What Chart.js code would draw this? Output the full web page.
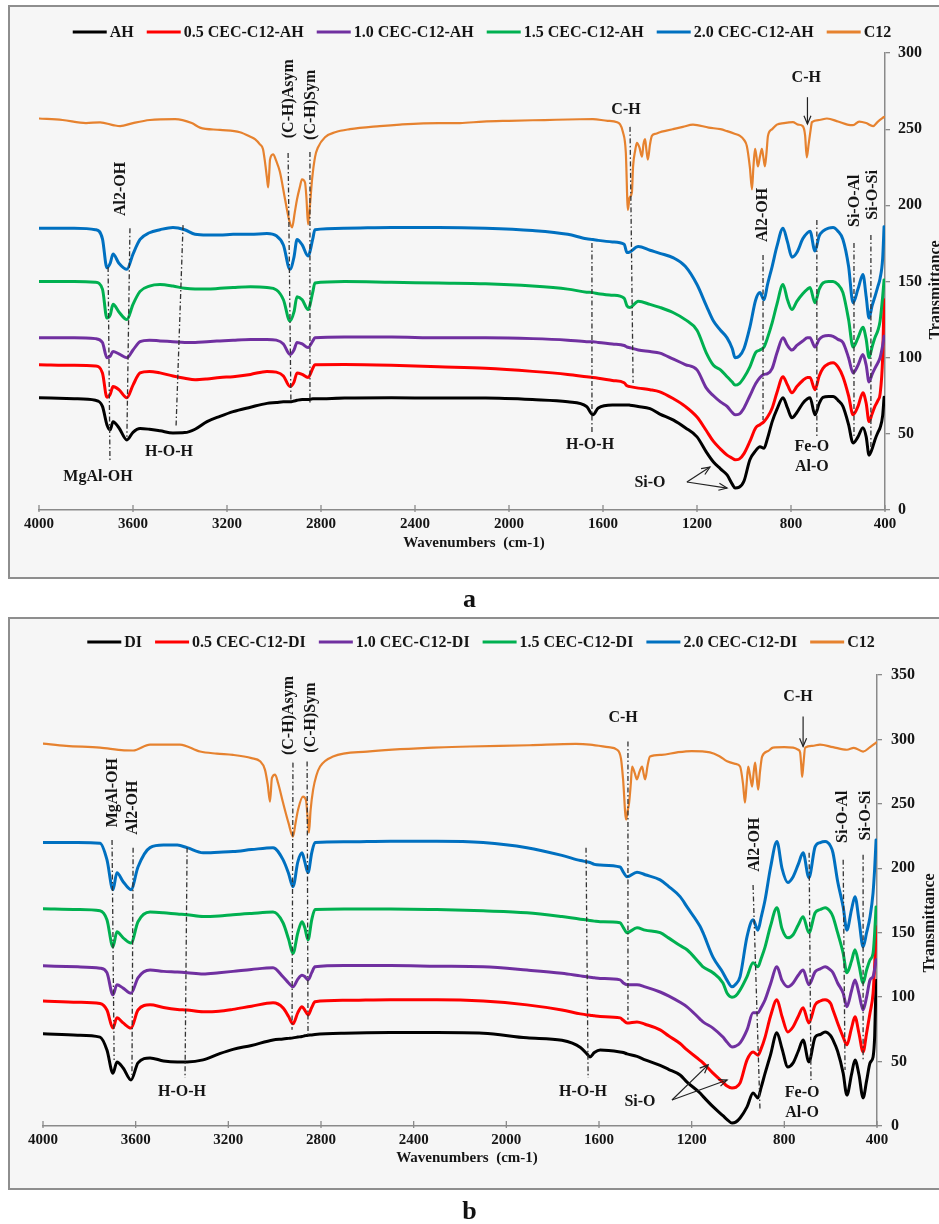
<!DOCTYPE html>
<html><head><meta charset="utf-8">
<script src="https://cdn.jsdelivr.net/npm/chart.js@4.4.0/dist/chart.umd.min.js"></script>
<style>
html,body{margin:0;padding:0;background:#fff;}
body{width:939px;height:1224px;overflow:hidden;position:relative;font-family:"Liberation Serif",serif;}
.box{position:absolute;left:8px;width:940px;border:2px solid #8e8e8e;background:#f6f6f6;box-sizing:border-box;}
canvas{position:absolute;left:0;}
.cap{position:absolute;width:939px;text-align:center;font:bold 26px "Liberation Serif";color:#111;}
</style></head><body>
<div class="box" style="top:5px;height:574px;"></div>
<div class="box" style="top:617px;height:573px;"></div>
<canvas id="ca" width="939" height="600" style="top:0"></canvas>
<canvas id="cb" width="939" height="624" style="top:600px"></canvas>
<div class="cap" style="top:584px;left:0;">a</div>
<div class="cap" style="top:1196px;left:0;">b</div>
<script>
// ---------------- Panel a data ----------------
const gridA = [4000,3850,3760,3730,3711,3697,3685,3660,3626,3600,3570,3530,3485,3430,3380,3336,3285,3230,3174,3100,3030,2990,2960,2932,2915,2902,2880,2855,2835,2826,2700,2500,2300,2100,1900,1750,1670,1643,1620,1560,1510,1498,1485,1450,1400,1358,1300,1250,1200,1160,1130,1100,1072,1050,1038,1020,1000,975,950,932,915,900,880,860,834,815,796,775,750,730,719,698,680,664,640,621,600,579,555,536,515,494,480,468,455,443,430,421,410,404];
const ahA = [73.7,73,72,68,56,52.6,58,54,46,51, 53.5,53,52,50.6,50.8,53,58,61.5,64.6,67.5, 70,70.5,71,71,71.5,72,72.5,72.5,73,73, 73.5,73.7,73.5,73.5,72.5,71,68,62.5,67,69, 69,69,68.8,68,66.5,63,59,54,48,38, 31.5,27,23,17,14.5,15,19,33,39,41.6, 40.5,47,58,66,73.7,67,60.5,64,70,73, 73.7,62.5,70,74,74.5,74.5,72,68,56,44, 48,54,48,36,40,46,51,54,62,74];
const ah05 = [95.4,95,94.5,90,74,76,81,79,73.7,82, 90,91,90,88,86.5,85.5,86,87,87.5,89, 91,90.5,88,81,84,90,89,87,93,95.4, 95.5,95,94,93,91,89,87.5,87,86.5,85, 83.5,81.5,81,80,79,77.6,73,68,61,52, 45,40,36,34,33,33.5,37,45,54,56, 58,61,67,77,87.5,82,77,81,85,87, 87,79,88,93,96,96.7,94,87.5,75,62.5, 68,77,70,58,63,68,72,76,100,138];
const ah10 = [113,113,112.5,110,100,101,104,102.5,100,105, 110.5,111.5,111,110.5,110,110,110.5,111,111.5,112, 112,111.5,109,102,105,110,109,106.6,111,113, 113.5,113.5,113,113,112.5,111.5,110.5,110.5,110,109, 108,107,106.5,105,104,103,99,95.5,92,80, 75,71,68,64,62.5,63,67,75,83,87, 89,89.5,93,103,113,108,105,108,111,113, 113,107,112,114,114.5,114,112,110,100,90, 95,102,95,84,89,93,96.7,100,108,114];
const ah15 = [150,150,149.5,145,126,128,135,130,125,135, 143.5,147,148,147,145.5,145,145,145.5,146,146.5, 146,144.5,138,124,130,140,138,131.6,143,149, 150,149.5,149,148.5,147,145,143,142.7,142,141, 139,134,133,137,135,133,129.5,125,118,103, 95,92,87.5,84,82,83,87,94,103.5,105, 107,113,123,135,148,138,131.6,137,142,145, 146,136,145,149,150,150,148,142.7,125,107, 113,120,112,100,107,113,118,124,140,151];
const ah20 = [185,185,184,178,159,162,168,162,158,168, 177.6,182,184,185.5,184,181,180.5,180.5,181,181, 181.5,180,174,158,166,177.6,174,166.7,178,184, 185,185.5,185.5,185,183.5,181,178,177.6,177,176, 174.5,169,169.5,173,170.5,168.5,165.5,160,148,134, 124,118,113,106,100,101,106,120,138,142.7, 138,148,160,173,185,176,166,169,178,182, 183,170,180,183,185,185.5,183,177.6,160,136, 145,154.6,140,126,134,140,147,152,165,186];
const c12AWave = [4000,3900,3800,3740,3680,3655,3600,3528,3421,3350,3315,3230,3145,3100,3081,3060,3047,3038,3030,3025,3020,3017,3004,2990,2975,2953,2935,2923,2912,2902,2890,2881,2868,2862,2855,2847,2838,2825,2813,2783,2740,2677,2550,2464,2300,2209,2111,2000,1850,1700,1643,1580,1540,1515,1503,1494,1487,1477,1472,1463,1456,1445,1434,1428,1421,1415,1409,1400,1392,1375,1358,1330,1302,1260,1217,1150,1100,1072,1040,1017,1000,988,975,966,960,953,947,941,932,924,918,911,904,898,880,860,830,792,770,750,740,733,725,716,711,680,647,600,560,536,510,480,451,430,404];
const c12AVal = [257,256,254,254.5,252.5,252,254,256,256.6,254,251,249.5,248,245,243.4,240,237,228,218,211.8,222,230,233.5,229,222,204,190,185.5,195,204,212,217,215,205,187.5,200,217,232,238,244.7,248,250,252,253,254,254,255,255.5,256,256.5,256.6,255.5,254.6,248,235,197,205,208.6,225.6,236,241,238,232,240,243.4,236,230,240,245.6,247,248,249,250,251.5,253,251,250,248.7,247,245.6,243,239,225,210.5,225,237,232,225.6,232,237,232,225.6,235,245.6,250,253,254,254.6,253,252,246,231.5,240,250,254.6,256,257,255,253,252.6,255,254,252,255,258];
const labelsNamesA = ['AH','0.5 CEC-C12-AH','1.0 CEC-C12-AH','1.5 CEC-C12-AH','2.0 CEC-C12-AH','C12'];
const yTicksA = {min:0,max:300,step:50};

// ---------------- Panel b data ----------------
const gridB = [4000,3850,3754,3724,3698,3681,3654,3620,3590,3538,3480,3420,3378,3309,3240,3180,3100,3007,2964,2940,2921,2900,2882,2870,2856,2840,2826,2700,2500,2300,2100,1911,1760,1680,1652,1639,1620,1595,1509,1495,1479,1436,1401,1336,1300,1250,1220,1164,1151,1108,1065,1047,1026,1010,991,961,935,914,900,883,860,832,810,785,762,740,719,694,667,645,624,600,590,570,546,530,510,495,478,460,445,430,417,410,404];
const diB = [71.5,70.5,69,59,41,49.7,45,35.7,49,52.8, 50.5,49.7,49.7,51.3,56,59.5,62.5,66.8,67.5,68, 68.4,69,69.5,70,70.5,70.7,71,72,72.5,72.5, 72,68.4,66.5,61,56,53.6,57,59,57.5,57, 56,54,51.3,47,44,39.6,34,25.6,23,15, 8,5,2.3,3,6.2,14.8,25.6,21.8,30,41, 55,72.3,60,45.8,49,58,66.8,49.7,69,71, 73,70,66.8,58,41,24,40,51.3,40,21.8, 35,49,53.6,70,113];
const di05 = [97,96,95,90,76,84,80,76,90,94, 92,90.5,90,88.6,89,90.5,93,95.6,91.7,85, 79.3,88,92.5,90,86.2,92,96.4,97.5,98,98, 97,94,90,87,86.2,86,85.5,85,83.9,82, 80,80.8,79,74.6,70,64,59,51,49,41, 34,31,29.5,30,33.4,51.3,57.5,55,60,69, 85,98,85,73,77,85,91.7,80,94,97, 98,95,90,80,69,63,76,84.7,72,57.5, 72,87.8,103,125,154.6];
const di10 = [124.3,123.5,122.5,119,101.8,109.6,107,103,115,121, 120,119.5,119,118,119,120,121.5,122.8,115.8,111, 108,114,117,116,113.4,119,123.5,124.5,124.5,124, 123.5,121,118.5,116.5,115.8,115.5,115,114.5,113.4,111, 109.6,109.6,108,104,101,96,92.5,83,80.8,76, 69,65,61.4,62,64.5,74.6,87.8,87.8,92,98, 110,123.5,113,108,111,117,121,109.6,119.7,122, 123.5,121,119,111,103,92.5,105,113.4,103,90, 100,113.4,116,122,129];
const di15 = [168.6,168,167,160,139,150.7,146,142,158.5,166, 165.5,164.5,164,162.5,163,164,165,166,157.7,145, 134,150,158.5,154,144.5,160,168,168.5,168.5,168, 167,165.5,162.5,160.5,160,159.5,159,158.5,157.7,154, 150,153.8,152,150,146,140,136.8,126,123.5,118.9, 111,103,100,101,105.6,116,126.6,123.5,130,139, 155,169.4,153,146,148.4,156,162.4,150,165.5,168, 169.4,166,162.4,150,134,118.9,128,136.8,125,111, 121,129,134,150,170];
const di20 = [220,220,219.5,206.7,183.4,196.6,189.6,183.4,201,216, 218,218,216,212,212.5,213,214.5,216,206.7,196, 185.7,205,212,205,196.6,212,220,220.5,221,221, 220,216,210,206,205,204.5,203,202.5,201,197, 193.5,197,195,191,186,178,170,155,150,131, 119,113,108,110,116,147,160,152,162,175.6, 200,220.7,200,189,193.5,203,212,192.7,216.8,220, 220.7,217,212,190,170,152,168,178,160,139, 150,162.4,181,200,222];
const c12BWave = [4000,3900,3754,3650,3611,3538,3409,3322,3250,3180,3100,3063,3042,3030,3020,3012,2998,2985,2964,2940,2921,2910,2899,2878,2865,2858,2852,2845,2834,2820,2804,2748,2601,2316,2157,1900,1700,1639,1560,1522,1505,1496,1483,1476,1470,1463,1457,1446,1436,1425,1414,1408,1401,1390,1380,1330,1263,1200,1121,1080,1047,1010,991,978,970,963,956,948,939,932,926,920,913,905,896,870,849,800,762,740,732,727,723,718,710,680,646,590,530,500,460,430,404];
const c12BVal = [296.8,295,293.7,291.5,291.4,296,296,290.6,289,288,285.5,283,276.6,265,251.7,270,272.7,266,251,235,224.6,235,245.5,255.6,253,240,227.7,245,261,272,279,286.7,290.6,293.7,294.5,295.5,296.5,296,294,292,285,269,237.8,245,251,265,279,274,269,275,279,274,269,280,286.7,288,290,291,290,287,283,281,279,265,251,265,279,272,263.4,275,282,272,261,275,286.7,291,293.7,294,293.7,292,290,280,271,280,293.7,295,296,294,292,293.5,290.6,294,297.6];
const labelsNamesB = ['DI','0.5 CEC-C12-DI','1.0 CEC-C12-DI','1.5 CEC-C12-DI','2.0 CEC-C12-DI','C12'];
const yTicksB = {min:0,max:350,step:50};

// x-axis ticks (wavenumber)
const xTicks = {min:400,max:4000,step:400};

// ---------------- annotations (data units: wavenumber, transmittance) ----------------
const guidesA = [[3706,159.5,3698,31.5],[3613,185,3626,48],[3387,187,3417,54],[2940,234.4,2928,71],[2847,235,2847,70.3],[1647,175.3,1647,51.2],[1485,251.5,1472,83.4],[919,167.4,919,59],[690,190.4,690,48],[532,175.3,532,48],[460,180.6,460,41.4]];
const textsA = [['MgAl-OH',3749,21.7,0],['H-O-H',3447,38,0],['Al2-OH',3651,210.8,1],['(C-H)Asym',2936,270,1],['(C-H)Sym',2843,266,1],['C-H',1502,262.6,0],['C-H',735,283.6,0],['Al2-OH',919,193.7,1],['Si-O-Al',528,203,1],['Si-O-Si',451,206.8,1],['H-O-H',1655,42.7,0],['Si-O',1400,17.7,0],['Fe-O',711,41.4,0],['Al-O',711,28.2,0]];
const arrowsA = [[730,271,730,253.4],[1243,18.4,1145,28.2],[1243,18.4,1072,14.4]];
const guidesB = [[3702,222,3693,51.3],[3611,216,3616,39.6],[3378,216,3387,37.3],[2921,282,2925,74.6],[2860,282.8,2856,69],[1656,216,1647,37.3],[1475,298.4,1475,82.4],[935,187,905,12.4],[693,212,685,35.7],[546,206.7,538,43.5],[460,210.6,460,51.3]];
const textsB = [['MgAl-OH',3698,258.7,1],['Al2-OH',3611,247,1],['H-O-H',3400,26.4,0],['(C-H)Asym',2938,318.6,1],['(C-H)Sym',2843,317,1],['C-H',1496,317,0],['C-H',741,333.3,0],['Al2-OH',926,218.3,1],['Si-O-Al',546,240,1],['Si-O-Si',447,240.9,1],['H-O-H',1669,26.4,0],['Si-O',1423,18.6,0],['Fe-O',723,25.6,0],['Al-O',723,10.1,0]];
const arrowsB = [[719,317.8,719,294.5],[1285,20.2,1129,47.4],[1285,20.2,1047,35.7]];

const colors = ['#000000','#ff0000','#7030a0','#00b050','#0070c0','#e6822f'];
const FONT = '"Liberation Serif", "Times New Roman", serif';

function pairs(xs, ys){ const out=[]; for(let i=0;i<Math.min(xs.length,ys.length);i++) out.push({x:xs[i],y:ys[i]}); return out; }

const deco = {
  id:'deco',
  afterDatasetsDraw(chart){
    const o = chart.options.plugins.deco;
    const {ctx} = chart; const xs = chart.scales.x, ys = chart.scales.y;
    const P = (w,v)=>[xs.getPixelForValue(w), ys.getPixelForValue(v)];
    ctx.save();
    // x tick marks
    ctx.strokeStyle='#8a8a8a'; ctx.lineWidth=1.3;
    for(let w=xTicks.min; w<=xTicks.max; w+=xTicks.step){ const px=xs.getPixelForValue(w); ctx.beginPath(); ctx.moveTo(px, chart.chartArea.bottom-5); ctx.lineTo(px, chart.chartArea.bottom+2); ctx.stroke(); }
    // guide lines
    ctx.strokeStyle='#333'; ctx.lineWidth=1.3; ctx.setLineDash([5,2.5,1.5,2.5]);
    o.guides.forEach(g=>{ const a=P(g[0],g[1]), b=P(g[2],g[3]); ctx.beginPath(); ctx.moveTo(a[0],a[1]); ctx.lineTo(b[0],b[1]); ctx.stroke(); });
    ctx.setLineDash([]);
    // arrows
    ctx.strokeStyle='#222'; ctx.lineWidth=1.2;
    o.arrows.forEach(a=>{ const s=P(a[0],a[1]), e=P(a[2],a[3]); ctx.beginPath(); ctx.moveTo(s[0],s[1]); ctx.lineTo(e[0],e[1]); ctx.stroke();
      const ang=Math.atan2(e[1]-s[1], e[0]-s[0]), L=9, sp=0.4;
      ctx.beginPath(); ctx.moveTo(e[0]-L*Math.cos(ang-sp), e[1]-L*Math.sin(ang-sp)); ctx.lineTo(e[0],e[1]); ctx.lineTo(e[0]-L*Math.cos(ang+sp), e[1]-L*Math.sin(ang+sp)); ctx.stroke(); });
    // texts
    ctx.fillStyle='#151515'; ctx.font='bold 16px '+FONT; ctx.textAlign='center'; ctx.textBaseline='middle';
    o.texts.forEach(t=>{ const p=P(t[1],t[2]); ctx.save(); ctx.translate(p[0],p[1]); if(t[3]) ctx.rotate(-Math.PI/2); ctx.fillText(t[0],0,0); ctx.restore(); });
    ctx.restore();
  },
  afterDraw(chart){
    const o = chart.options.plugins.deco; const {ctx}=chart;
    ctx.save();
    // legend
    ctx.font='bold 16px '+FONT; ctx.textBaseline='middle'; ctx.textAlign='left';
    const ds = chart.data.datasets; const lineW=34, gap=3, sep=13;
    let total=0; ds.forEach((d,i)=>{ total += lineW+gap+ctx.measureText(d.label).width + (i<ds.length-1?sep:0); });
    let x = o.legendCx - total/2;
    ds.forEach(d=>{ ctx.strokeStyle=d.borderColor; ctx.lineWidth=3; ctx.beginPath(); ctx.moveTo(x,o.legendY); ctx.lineTo(x+lineW,o.legendY); ctx.stroke(); x+=lineW+gap; ctx.fillStyle='#151515'; ctx.fillText(d.label,x,o.legendY+1); x+=ctx.measureText(d.label).width+sep; });
    // axis titles
    ctx.textAlign='center'; ctx.font='bold 15px '+FONT; ctx.fillStyle='#151515';
    ctx.fillText('Wavenumbers  (cm-1)', o.xTitle[0], o.xTitle[1]);
    ctx.save(); ctx.translate(o.yTitle[0], o.yTitle[1]); ctx.rotate(-Math.PI/2); ctx.font='bold 16px '+FONT; ctx.fillText('Transmittance',0,0); ctx.restore();
    ctx.restore();
  }
};

function build(id, grid, series, c12w, c12v, names, yT, geo, deco_opts){
  const datasets = series.map((s,i)=>({label:names[i], data:pairs(grid,s), borderColor:colors[i], backgroundColor:colors[i], borderWidth:3, order:10-i}));
  datasets.push({label:names[5], data:pairs(c12w,c12v), borderColor:colors[5], backgroundColor:colors[5], borderWidth:2.2, order:0});
  return new Chart(document.getElementById(id), {
    type:'line',
    data:{datasets},
    options:{
      responsive:false, animation:false, devicePixelRatio:1,
      parsing:false, normalized:true,
      elements:{point:{radius:0}, line:{cubicInterpolationMode:'monotone', borderJoinStyle:'round', borderCapStyle:'round'}},
      layout:{padding:{left:geo.left, top:geo.top, right:0, bottom:0}},
      plugins:{legend:{display:false}, tooltip:{enabled:false}, deco:deco_opts},
      scales:{
        x:{type:'linear', reverse:true, min:xTicks.min, max:xTicks.max,
           ticks:{stepSize:xTicks.step, color:'#151515', font:{family:FONT, size:15, weight:'bold'}, padding:geo.xpad, maxRotation:0, autoSkip:false,
                  callback:(v)=>String(v)},
           grid:{display:false}, border:{display:true, color:'#8a8a8a', width:1.5},
           afterFit(s){ s.height = geo.xh; }},
        y:{position:'right', min:yT.min, max:yT.max,
           ticks:{stepSize:yT.step, color:'#151515', font:{family:FONT, size:16, weight:'bold'}, padding:geo.ypad},
           grid:{drawOnChartArea:false, drawTicks:true, tickLength:5, color:'#8a8a8a', lineWidth:1.3},
           border:{display:true, color:'#8a8a8a', width:1.5},
           afterFit(s){ s.width = geo.yw; }}
      }
    },
    plugins:[deco]
  });
}

build('ca', gridA, [ahA,ah05,ah10,ah15,ah20], c12AWave, c12AVal, labelsNamesA, yTicksA,
  {left:39, top:53, xh:90, yw:54, xpad:-3, ypad:8},
  {guides:guidesA, texts:textsA, arrows:arrowsA, legendCx:482, legendY:32, xTitle:[474,543], yTitle:[936,290]});
build('cb', gridB, [diB,di05,di10,di15,di20], c12BWave, c12BVal, labelsNamesB, yTicksB,
  {left:43, top:75, xh:98, yw:62, xpad:-3, ypad:9},
  {guides:guidesB, texts:textsB, arrows:arrowsB, legendCx:481, legendY:42, xTitle:[467,558], yTitle:[930,323]});
</script>
</body></html>
